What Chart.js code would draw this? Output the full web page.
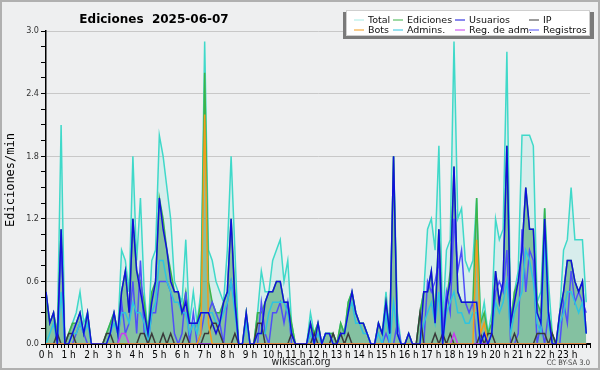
<!DOCTYPE html>
<html>
<head>
<meta charset="utf-8">
<script src="https://cdn.jsdelivr.net/npm/chart.js@4.4.1/dist/chart.umd.min.js"></script>
<style>
  html, body { margin: 0; padding: 0; background: #eeeff0; }
  canvas { display: block; }
</style>
</head>
<body>
<canvas id="editsChart" width="600" height="370"></canvas>
<script>
// edits per minute, one value every 10 minutes (144 buckets = 24 h)
var total = [0.5,0.2,0.3,0.1,2.1,0,0.1,0.2,0.3,0.5, 0.2,0.3,0,0,0,0,0.1,0.2,0.3,0.1,
  0.9,0.8,0.5,1.8,0.8,1.4,0.5,0.1,0.8,0.9, 2.0,1.8,1.5,1.2,0.6,0.5,0.4,1.0,0.2,0.5,
  0.2,0.5,2.9,0.9,0.8,0.6,0.5,0.4,0.9,1.8, 0.9,0,0,0.3,0,0,0.3,0.7,0.5,0.5,
  0.8,0.9,1.0,0.6,0.8,0.2,0,0,0,0, 0.3,0.1,0.2,0,0.1,0.1,0.1,0,0.2,0.1,
  0.4,0.5,0.3,0.2,0.2,0.1,0,0,0.2,0.1, 0.5,0.1,1.8,0.3,0,0,0.1,0,0,0.3,
  0.5,1.1,1.2,0.9,1.9,0.2,0.9,1.0,2.9,1.2, 1.3,0.8,0.7,0.8,1.4,0.2,0.4,0.1,0.3,1.2,
  1.0,1.1,2.8,0.2,0.5,0.7,2.0,2.0,2.0,1.9, 0.4,0.5,1.3,0.6,0.1,0,0.3,0.9,1.0,1.5,
  1.0,1.0,1.0,0.4];
var ediciones = [0.5,0.2,0.3,0.1,1.1,0,0.1,0.2,0.2,0.3, 0.1,0.3,0,0,0,0,0.1,0.2,0.3,0.1,
  0.5,0.7,0.3,1.2,0.7,0.6,0.4,0.1,0.5,0.6, 1.4,1.2,0.9,0.7,0.5,0.5,0.3,0.5,0.2,0.2,
  0.2,0.4,2.6,0.6,0.4,0.3,0.3,0.4,0.5,1.2, 0.5,0,0,0.3,0,0,0.3,0.3,0.4,0.5,
  0.5,0.6,0.6,0.4,0.4,0.2,0,0,0,0, 0.2,0.1,0.2,0,0.1,0.1,0.1,0,0.2,0.1,
  0.4,0.5,0.3,0.2,0.2,0.1,0,0,0.2,0.1, 0.4,0.1,1.8,0.1,0,0,0.1,0,0,0.3,
  0.5,0.5,0.7,0.3,1.1,0.1,0.4,0.7,1.7,0.5, 0.4,0.4,0.4,0.4,1.4,0.2,0.3,0.1,0.2,0.7,
  0.4,0.6,1.9,0.2,0.5,0.6,0.9,1.5,1.1,1.1, 0.4,0.3,1.3,0.3,0.1,0,0.3,0.5,0.8,0.8,
  0.6,0.5,0.6,0.1];
var usuarios = [0.5,0.2,0.3,0,1.1,0,0,0.1,0.2,0.3, 0.1,0.3,0,0,0,0,0,0.1,0.3,0.1,
  0.5,0.7,0.3,1.2,0.7,0.5,0.3,0.1,0.4,0.6, 1.4,1.1,0.9,0.6,0.5,0.5,0.3,0.4,0.2,0.2,
  0.2,0.3,0.3,0.3,0.2,0.1,0.2,0.4,0.5,1.2, 0.4,0,0,0.3,0,0,0.1,0.1,0.4,0.5,
  0.5,0.6,0.6,0.4,0.4,0.1,0,0,0,0, 0.2,0,0.2,0,0.1,0.1,0,0,0.1,0.1,
  0.3,0.5,0.3,0.2,0.2,0.1,0,0,0.2,0.1, 0.4,0.1,1.8,0.1,0,0,0.1,0,0,0,
  0.5,0.5,0.7,0.2,1.1,0,0.4,0.6,1.7,0.5, 0.4,0.4,0.4,0.4,0.4,0,0.1,0,0.1,0.7,
  0.4,0.6,1.9,0.2,0.4,0.6,0.9,1.5,1.1,1.1, 0.3,0.2,1.2,0.3,0,0,0.3,0.5,0.8,0.8,
  0.6,0.5,0.6,0.1];
var ip = [0,0,0,0.1,0,0,0.1,0.1,0,0, 0,0,0,0,0,0,0.1,0.1,0,0,
  0,0,0,0,0,0.1,0.1,0,0.1,0, 0,0.1,0,0.1,0,0,0,0.1,0,0,
  0,0,0.1,0.1,0.2,0.2,0.1,0,0,0, 0.1,0,0,0,0,0,0.2,0.2,0,0,
  0,0,0,0,0,0.1,0,0,0,0, 0,0.1,0,0,0,0,0.1,0,0.1,0,
  0.1,0,0,0,0,0,0,0,0,0, 0,0,0,0,0,0,0,0,0,0.3,
  0,0,0,0.1,0,0.1,0,0.1,0,0, 0,0,0,0,0,0.1,0,0.1,0.1,0,
  0,0,0,0,0.1,0,0,0,0,0, 0.1,0.1,0.1,0,0.1,0,0,0,0,0,
  0,0,0,0];
var bots = [0,0,0,0,0,0,0,0,0,0, 0,0,0,0,0,0,0,0,0,0,
  0,0,0,0,0,0,0,0,0,0, 0,0,0,0,0,0,0,0,0,0,
  0,0.1,2.2,0.2,0,0,0,0,0,0, 0,0,0,0,0,0,0,0,0,0,
  0,0,0,0,0,0,0,0,0,0, 0,0,0,0,0,0,0,0,0,0,
  0,0,0,0,0,0,0,0,0,0, 0,0,0,0,0,0,0,0,0,0,
  0,0,0,0,0,0,0,0,0,0, 0,0,0,0,1.0,0.1,0.2,0,0,0,
  0,0,0,0,0,0,0,0,0,0, 0,0,0,0,0,0,0,0,0,0,
  0,0,0,0];
var admins = [0,0.1,0.2,0,0.5,0,0,0.1,0.1,0.2, 0.1,0.2,0,0,0,0,0,0.1,0.2,0.1,
  0.3,0.3,0.2,0.4,0.3,0.3,0.2,0,0.3,0.4, 0.8,0.8,0.6,0.5,0.4,0.4,0.3,0.3,0.1,0.2,
  0.1,0.3,0.3,0.3,0.3,0.2,0.2,0.3,0.4,0.6, 0.3,0,0,0.2,0,0,0.1,0.1,0.1,0.3,
  0.4,0.4,0.4,0.4,0.3,0.1,0,0,0,0, 0.1,0,0.1,0,0.1,0.1,0,0,0.1,0.1,
  0.3,0.4,0.2,0.2,0.1,0.1,0,0,0.1,0, 0.3,0,0.4,0.1,0,0,0,0,0,0,
  0.2,0.3,0.4,0.2,0.5,0,0.3,0.4,0.5,0.3, 0.3,0.2,0.2,0.3,0.3,0,0.1,0,0.1,0.4,
  0.3,0.4,0.6,0.1,0.3,0.4,0.5,0.9,0.8,0.6, 0.2,0.1,1.0,0.2,0,0,0.2,0.3,0.5,0.5,
  0.4,0.3,0.4,0.1];
var regAdm = [0,0,0,0,0,0,0,0,0,0, 0,0,0,0,0,0,0,0,0,0,
  0.1,0.1,0,0,0,0,0,0,0,0, 0,0,0,0,0,0,0,0,0,0,
  0,0,0,0,0,0,0,0,0,0, 0,0,0,0,0,0,0,0,0,0,
  0,0,0,0,0,0,0,0,0,0, 0,0,0,0,0,0,0,0,0,0,
  0,0,0,0,0,0,0,0,0,0, 0,0,0,0,0,0,0,0,0,0,
  0,0,0,0,0,0,0,0,0.1,0, 0,0,0,0,0,0,0,0,0,0,
  0,0,0,0,0,0,0,0,0,0, 0,0,0,0,0,0,0,0,0,0,
  0,0,0,0];
var registros = [0,0,0,0,1.0,0,0,0,0.1,0.2, 0.1,0,0,0,0,0,0,0,0,0,
  0.4,0.1,0.2,0.6,0.1,0.8,0.1,0,0.3,0.3, 0.6,0.6,0.6,0.5,0.1,0,0.1,0.5,0,0.3,
  0,0.1,0.3,0.3,0.4,0.3,0.2,0,0.4,0.6, 0.4,0,0,0,0,0,0,0.4,0.1,0,
  0.3,0.3,0.4,0.2,0.4,0,0,0,0,0, 0.1,0,0,0,0,0,0,0,0,0,
  0,0,0,0,0,0,0,0,0,0, 0.1,0,0,0.2,0,0,0,0,0,0,
  0,0.6,0.5,0.6,0.8,0.1,0.5,0.3,1.2,0.7, 0.9,0.4,0.3,0.4,0,0,0.1,0,0.1,0.5,
  0.6,0.5,0.9,0,0,0.1,1.1,0.5,0.9,0.8, 0,0.2,0,0.3,0,0,0,0.4,0.2,0.7,
  0.4,0.5,0.4,0.3];

var seriesNames = ["Total", "Ediciones", "Usuarios", "IP", "Bots", "Admins.", "Reg. de adm.", "Registros"];
var seriesColors = ["#3fd9c9", "#3cb44a", "#1010dc", "#3a3a3a", "#f39c1c", "#2ec4e0", "#c83cf0", "#4f4ff8"];
var yTickLabels = ["0.0", "0.6", "1.2", "1.8", "2.4", "3.0"];
var hourLabels = [];
for (var h = 0; h < 24; h++) hourLabels.push(h + " h");

var titleText = "Ediciones  2025-06-07";
var yTitle = "Ediciones/min";
var narrow = "'Liberation Sans Narrow', 'DejaVu Sans Condensed', 'Liberation Sans', sans-serif";

function toPoints(arr) {
    return arr.map(function(v, i) { return { x: i, y: v }; });
}

function isMajor(v) {
    var r = v / 0.6;
    return Math.abs(r - Math.round(r)) < 1e-6;
}

function line(idx, values, order, extra) {
    var ds = {
        label: seriesNames[idx],
        data: toPoints(values),
        borderColor: seriesColors[idx],
        borderWidth: 1.5,
        fill: false,
        pointRadius: 0,
        tension: 0,
        order: order
    };
    for (var k in extra) ds[k] = extra[k];
    return ds;
}

// background, frame, titles and the boxed legend
var decor = {
    id: "decor",
    beforeDraw: function(chart) {
        var c = chart.ctx;
        c.save();
        c.fillStyle = "#eeeff0";
        c.fillRect(0, 0, chart.width, chart.height);
        c.restore();
    },
    afterDraw: function(chart) {
        var c = chart.ctx;
        c.save();
        c.strokeStyle = "#b0b0b0";
        c.lineWidth = 2;
        c.strokeRect(1, 1, 598, 368);

        c.fillStyle = "#000";
        c.textBaseline = "alphabetic";
        c.textAlign = "center";
        c.font = "bold 12px 'DejaVu Sans'";
        c.fillText(titleText, 154, 23);

        c.font = "10.5px " + narrow;
        c.fillStyle = "#222";
        c.fillText("wikiscan.org", 301, 365);
        c.font = "7.5px " + narrow;
        c.fillStyle = "#444";
        c.textAlign = "right";
        c.fillText("CC BY-SA 3.0", 590, 365);

        c.save();
        c.translate(14, 180);
        c.rotate(-Math.PI / 2);
        c.textAlign = "center";
        c.fillStyle = "#000";
        c.font = "12px 'DejaVu Sans Mono'";
        c.fillText(yTitle, 0, 0);
        c.restore();

        // legend box
        c.fillStyle = "#7a7a7a";
        c.fillRect(343, 12, 251, 27);
        c.fillStyle = "#fff";
        c.fillRect(346, 10, 244, 26);
        c.strokeStyle = "#cfcfcf";
        c.lineWidth = 1;
        c.strokeRect(346.5, 10.5, 243, 25);

        var cols = [354, 393, 455, 529];
        var rows = [19.5, 29.5];
        var order = [0, 1, 2, 3, 4, 5, 6, 7];
        c.font = "9.5px 'DejaVu Sans'";
        c.textAlign = "left";
        c.textBaseline = "middle";
        order.forEach(function(s, n) {
            var x = cols[n % 4], y = rows[Math.floor(n / 4)];
            c.strokeStyle = s === 0 ? "#a6ece4" : seriesColors[s];
            c.lineWidth = 1;
            c.beginPath();
            c.moveTo(x, y + 0.5);
            c.lineTo(x + 10, y + 0.5);
            c.stroke();
            c.fillStyle = "#111";
            c.fillText(seriesNames[s], x + 14, y + 1);
        });
        c.restore();
    }
};

var ctx = document.getElementById("editsChart").getContext("2d");

var chart = new Chart(ctx, {
    type: "line",
    data: {
        datasets: [
            line(0, total, 10, { fill: "origin", backgroundColor: "rgba(64,224,208,0.13)" }),
            line(1, ediciones, 9, { fill: "origin", backgroundColor: "rgba(30,140,70,0.45)" }),
            line(7, registros, 8),
            line(5, admins, 7),
            line(3, ip, 6),
            line(6, regAdm, 5),
            line(4, bots, 4),
            line(2, usuarios, 3)
        ]
    },
    options: {
        responsive: false,
        animation: false,
        layout: { padding: { top: 31, right: 10, left: 0, bottom: 0 } },
        plugins: {
            legend: { display: false },
            tooltip: { enabled: false }
        },
        scales: {
            x: {
                type: "linear",
                min: 0,
                max: 144,
                afterFit: function(s) { s.height = 26; },
                ticks: {
                    stepSize: 1,
                    autoSkip: false,
                    maxRotation: 0,
                    padding: 1,
                    color: "#000",
                    font: { family: narrow, size: 10 },
                    callback: function(v) {
                        return (v % 6 === 0 && v < 144) ? hourLabels[v / 6] : "";
                    }
                },
                grid: { drawOnChartArea: false, tickLength: 4, tickColor: "#000", color: "#000" },
                border: { color: "#000", width: 2 }
            },
            y: {
                min: 0,
                max: 3,
                afterFit: function(s) { s.width = 46; },
                ticks: {
                    stepSize: 0.15,
                    autoSkip: false,
                    padding: 2,
                    color: "#333",
                    font: { family: narrow, size: 9 },
                    callback: function(v) {
                        return isMajor(v) ? yTickLabels[Math.round(v / 0.6)] : "";
                    }
                },
                grid: {
                    color: function(c) {
                        return (c.tick && c.tick.value > 0 && isMajor(c.tick.value)) ? "#c8c8c8" : "rgba(0,0,0,0)";
                    },
                    tickColor: "#000",
                    tickLength: 5
                },
                border: { color: "#000", width: 1.5 }
            }
        }
    },
    plugins: [decor]
});
</script>
</body>
</html>
